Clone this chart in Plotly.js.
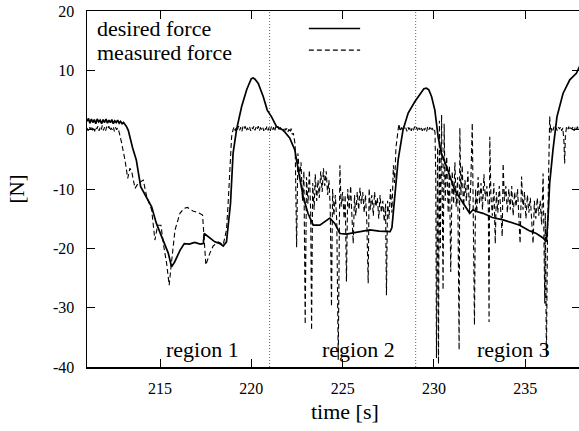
<!DOCTYPE html>
<html>
<head>
<meta charset="utf-8">
<script src="https://cdn.plot.ly/plotly-3.0.1.min.js"></script>
<style>
html, body { margin: 0; padding: 0; overflow: hidden; background: #fff; }
#chart { width: 600px; height: 431px; }
</style>
</head>
<body>
<div id="chart"></div>
<script>
// ---- data ----
const seriesNames = ["desired force", "measured force"];

const desiredT = [
  211.00, 211.08, 211.16, 211.24, 211.32, 211.40, 211.48, 211.56, 211.64, 211.72,
  211.80, 211.88, 211.96, 212.04, 212.12, 212.20, 212.28, 212.36, 212.44, 212.52,
  212.60, 212.68, 212.76, 212.84, 212.92, 213.00, 213.15, 213.26, 213.50, 213.70,
  213.94, 214.27, 214.54, 214.80, 215.18, 215.45, 215.63, 215.80, 216.10, 216.33,
  216.60, 216.90, 217.20, 217.37, 217.42, 217.73, 218.00, 218.28, 218.46, 218.64,
  218.73, 218.86, 219.00, 219.19, 219.47, 219.74, 219.90, 220.00, 220.10, 220.20,
  220.38, 220.65, 220.87, 221.10, 221.38, 221.75, 222.10, 222.38, 222.57, 222.84,
  223.10, 223.39, 223.75, 224.00, 224.30, 224.57, 224.85, 225.20, 225.58, 226.00,
  226.50, 227.00, 227.60, 227.70, 227.86, 228.04, 228.31, 228.59, 228.95, 229.32,
  229.45, 229.59, 229.72, 229.87, 230.05, 230.23, 230.41, 230.69, 230.96, 231.14,
  231.50, 231.96, 232.14, 232.33, 232.69, 233.20, 233.79, 234.20, 234.70, 235.20,
  235.61, 236.00, 236.16, 236.25, 236.34, 236.52, 236.74, 237.07, 237.44, 237.80,
  238.00
];
const desiredF = [
  1.4, 1.9, 1.1, 1.8, 1.2, 1.7, 1.0, 1.8, 1.3, 1.6,
  1.0, 1.7, 1.2, 1.8, 1.1, 1.6, 1.2, 1.7, 1.0, 1.5,
  1.2, 1.6, 1.1, 1.4, 1.0, 1.2, 0.6, -0.1, -3.1, -5.1,
  -9.6, -11.6, -13.0, -15.8, -18.6, -20.8, -23.1, -22.3, -20.3, -19.2,
  -19.3, -19.0, -19.3, -19.2, -17.5, -18.3, -18.9, -19.2, -19.6, -18.9,
  -16.4, -12.4, -4.0, 0.0, 3.9, 6.7, 7.9, 8.6, 8.7, 8.5,
  7.8, 5.6, 3.3, 2.2, 0.5, -0.1, -1.4, -3.4, -6.8, -11.3,
  -14.1, -16.1, -16.1, -15.5, -14.9, -15.8, -17.5, -17.6, -17.4, -17.2,
  -16.9, -17.1, -17.2, -16.5, -10.7, -5.1, 0.0, 2.8, 4.7, 6.4,
  6.9, 7.0, 6.7, 5.6, 3.3, -1.2, -4.0, -6.2, -8.5, -10.2,
  -11.9, -14.1, -13.5, -13.8, -14.1, -14.8, -15.2, -15.6, -16.1, -17.0,
  -17.5, -18.3, -18.9, -14.7, -9.0, -3.4, 2.2, 6.1, 8.4, 9.5,
  10.8
];

const measuredT = [
  211.00, 211.06, 211.12, 211.18, 211.24, 211.30, 211.36, 211.42, 211.48, 211.54,
  211.60, 211.66, 211.72, 211.78, 211.84, 211.90, 211.96, 212.02, 212.08, 212.14,
  212.20, 212.26, 212.32, 212.38, 212.44, 212.50, 212.56, 212.62, 212.68, 212.76,
  212.90, 213.08, 213.23, 213.35, 213.45, 213.63, 213.81, 214.08, 214.27, 214.54,
  214.72, 214.87, 215.05, 215.18, 215.36, 215.50, 215.64, 215.82, 216.09, 216.30,
  216.50, 216.80, 217.10, 217.33, 217.51, 217.73, 217.91, 218.19, 218.46, 218.64,
  218.73, 218.83, 218.92, 219.00,
  219.06, 219.12, 219.18, 219.24, 219.30, 219.36, 219.42, 219.48, 219.54, 219.60,
  219.66, 219.72, 219.78, 219.84, 219.90, 219.96, 220.02, 220.08, 220.14, 220.20,
  220.26, 220.32, 220.38, 220.44, 220.50, 220.56, 220.62, 220.68, 220.74, 220.80,
  220.86, 220.92, 220.98, 221.04, 221.10, 221.16, 221.22, 221.28, 221.34, 221.40,
  221.46, 221.52, 221.58, 221.64, 221.70, 221.76, 221.82, 221.88, 221.94, 222.00,
  222.06, 222.12, 222.18, 222.24, 222.30,
  222.40, 222.48, 222.55, 222.65, 222.72, 222.80, 222.88, 222.95, 223.02, 223.10,
  223.18, 223.25, 223.30, 223.36, 223.44, 223.50, 223.58, 223.65, 223.72, 223.80,
  223.88, 223.95, 224.02, 224.10, 224.18, 224.25, 224.32, 224.39, 224.45, 224.52,
  224.60, 224.68, 224.76, 224.82, 224.85, 224.92, 225.00, 225.08, 225.14, 225.21,
  225.28, 225.36, 225.44, 225.50, 225.58, 225.65, 225.72, 225.80, 225.88, 225.95,
  226.02, 226.10, 226.18, 226.25, 226.32, 226.40, 226.45, 226.52, 226.60, 226.68,
  226.75, 226.82, 226.90, 226.98, 227.05, 227.12, 227.20, 227.28, 227.35, 227.40,
  227.46, 227.54, 227.62, 227.70, 227.78, 227.85, 227.92, 228.00, 228.08, 228.15,
  228.22, 228.28, 228.34, 228.40, 228.46, 228.52, 228.58, 228.64, 228.70, 228.76,
  228.82, 228.88, 228.94, 229.00, 229.06, 229.12, 229.18, 229.24, 229.30, 229.36,
  229.42, 229.48, 229.54, 229.60, 229.66, 229.72, 229.78, 229.84, 229.90, 229.96,
  230.02, 230.06,
  230.10, 230.14, 230.20, 230.25, 230.30, 230.35, 230.42, 230.50, 230.56, 230.62,
  230.70, 230.78, 230.85, 230.92, 231.00, 231.08, 231.15, 231.22, 231.30, 231.38,
  231.42, 231.48, 231.55, 231.62, 231.70, 231.78, 231.86, 231.95, 232.02, 232.10,
  232.15, 232.22, 232.28, 232.35, 232.42, 232.50, 232.58, 232.66, 232.74, 232.82,
  232.90, 232.98, 233.02, 233.06, 233.12, 233.20, 233.28, 233.36, 233.42, 233.50,
  233.58, 233.66, 233.74, 233.79, 233.86, 233.94, 234.02, 234.10, 234.18, 234.26,
  234.34, 234.42, 234.50, 234.58, 234.66, 234.72, 234.80, 234.88, 234.96, 235.04,
  235.12, 235.20, 235.28, 235.36, 235.43, 235.50, 235.58, 235.66, 235.74, 235.82,
  235.90, 235.98, 236.04, 236.07, 236.10, 236.16, 236.22, 236.28, 236.34, 236.40,
  236.46, 236.52, 236.58, 236.64, 236.70, 236.76, 236.82, 236.88, 236.94, 237.00,
  237.06, 237.12, 237.16, 237.20, 237.26, 237.32, 237.38, 237.44, 237.50, 237.56,
  237.62, 237.68, 237.74, 237.80, 237.86, 237.92, 238.00
];
const measuredF = [
  0.3, -0.2, 0.5, 0.0, 0.6, -0.1, 0.4, -0.3, 0.5, 0.1,
  0.6, -0.2, 0.4, 0.0, 0.7, -0.1, 0.4, -0.2, 0.5, 0.1,
  0.6, -0.2, 0.3, 0.0, 0.5, -0.3, 0.4, 0.0, 0.3, -0.4,
  -2.3, -5.1, -8.2, -6.5, -7.1, -9.9, -9.0, -8.5, -11.3, -13.5,
  -18.6, -16.1, -16.1, -19.2, -22.5, -26.2, -22.0, -16.9, -14.1, -13.3,
  -13.1, -13.7, -14.0, -14.4, -22.8, -20.8, -19.6, -18.9, -19.4, -16.9,
  -12.4, -6.8, -1.2, 0.0,
  0.5, -0.2, 0.4, 0.0, 0.6, -0.1, 0.4, -0.3, 0.5, 0.1,
  0.6, -0.2, 0.3, 0.0, 0.5, -0.2, 0.4, 0.1, 0.6, -0.1,
  0.4, 0.0, 0.6, -0.2, 0.3, 0.1, 0.5, -0.2, 0.4, 0.0,
  0.6, -0.1, 0.4, -0.2, 0.5, 0.0, 0.4, -0.3, 0.5, 0.1,
  0.6, -0.2, 0.4, 0.0, 0.3, -0.3, 0.4, -0.1, 0.2, -0.4,
  0.1, -0.5, 0.2, -0.8, -0.6,
  -2.5, -19.8, -4.0, -8.0, -5.5, -12.0, -7.0, -32.8, -8.0, -12.5,
  -6.8, -14.0, -33.8, -9.0, -13.5, -7.5, -12.0, -8.5, -11.5, -7.0,
  -10.5, -6.5, -9.5, -7.0, -11.0, -8.5, -13.0, -29.8, -10.0, -14.5,
  -11.0, -15.5, -38.8, -9.0, -6.0, -13.0, -10.5, -15.0, -11.0, -25.6,
  -10.0, -13.5, -9.5, -14.0, -19.2, -11.0, -14.5, -10.5, -13.5, -9.8,
  -12.5, -10.5, -14.0, -11.0, -15.0, -25.9, -9.9, -13.5, -11.0, -14.5,
  -10.5, -13.0, -11.5, -15.0, -11.0, -14.0, -12.0, -15.5, -12.5, -27.9,
  -12.0, -15.0, -10.0, -14.0, -6.0, -9.0, -3.0, -1.0, 1.0, -0.3,
  0.4, -0.2, 0.5, 0.0, 0.3, -0.3, 0.4, 0.0, 0.5, -0.2,
  0.3, -0.1, 0.5, 0.0, 0.4, -0.3, 0.3, 0.0, 0.5, -0.2,
  0.4, -0.1, 0.3, -0.3, 0.5, 0.0, 0.4, -0.2, 0.3, -0.1,
  0.2, -0.5,
  -8.0, -38.5, -3.0, -39.5, 1.5, -20.0, 2.5, -27.0, 1.0, -12.0,
  -4.5, -14.0, -6.0, -24.0, -7.0, -12.5, -5.5, -13.0, -8.0, -37.1,
  0.3, -11.0, -6.0, -13.5, -8.5, -12.0, -7.0, -14.0, -9.0, 1.1,
  -12.0, -32.9, -10.0, -14.0, -8.0, -12.5, -9.0, -13.5, -7.5, -12.0,
  -9.5, -13.0, -32.4, -1.2, -11.0, -14.5, -9.0, -19.2, -10.5, -14.0,
  -9.5, -13.0, -18.0, -5.7, -12.0, -9.5, -14.0, -10.0, -13.5, -9.5,
  -14.5, -10.5, -13.0, -10.0, -15.0, -19.2, -7.9, -13.5, -10.5, -15.0,
  -11.0, -14.0, -11.5, -15.5, -19.2, -12.0, -15.0, -11.5, -14.5, -12.0,
  -16.0, -7.4, -20.0, -29.3, -14.0, -38.3, -18.0, -8.0, 2.2, -0.5,
  0.4, -0.1, 0.5, 0.0, 0.3, -0.2, 0.4, 0.1, 0.5, -0.2,
  0.3, -2.0, -5.7, -1.0, 0.4, 0.0, 0.5, -0.1, 0.3, 0.1,
  0.5, -0.2, 0.4, 0.0, 0.5, -0.1, 0.3
];

const xTicks = [215, 220, 225, 230, 235];
const yTicks = [-40, -30, -20, -10, 0, 10, 20];
const regionBounds = [221, 229];
const regionLabels = ["region 1", "region 2", "region 3"];
const regionLabelX = [217.32, 225.85, 234.36];
const regionLabelY = -37;
const xTitle = "time [s]";
const yTitle = "[N]";

// ---- chart ----
const serif = "Liberation Serif, serif";
const traces = [
  { type: "scatter", mode: "lines", name: seriesNames[0], x: desiredT, y: desiredF,
    line: { color: "#000", width: 1.7 }, showlegend: false },
  { type: "scatter", mode: "lines", name: seriesNames[1], x: measuredT, y: measuredF,
    line: { color: "#000", width: 1.1, dash: "5px,3px" }, showlegend: false }
];

const shapes = regionBounds.map(b => ({
  type: "line", xref: "x", yref: "paper", x0: b, x1: b, y0: 0, y1: 1,
  line: { color: "#666", width: 1, dash: "1px,2px" }, layer: "below"
}));
// legend line samples
shapes.push({ type: "line", xref: "paper", yref: "paper", x0: 0.450, x1: 0.554, y0: 0.951, y1: 0.951,
  line: { color: "#000", width: 1.4 } });
shapes.push({ type: "line", xref: "paper", yref: "paper", x0: 0.450, x1: 0.554, y0: 0.890, y1: 0.890,
  line: { color: "#000", width: 1.1, dash: "5px,3px" } });

const annotations = regionLabels.map((t, i) => ({
  text: t, x: regionLabelX[i], y: regionLabelY, xref: "x", yref: "y",
  showarrow: false, xanchor: "center", yanchor: "middle",
  font: { family: serif, size: 22, color: "#000" }
}));
annotations.push({ text: seriesNames[0], xref: "paper", yref: "paper", x: 0.0162, y: 0.950,
  xanchor: "left", yanchor: "middle", showarrow: false, font: { family: serif, size: 22, color: "#000" } });
annotations.push({ text: seriesNames[1], xref: "paper", yref: "paper", x: 0.0162, y: 0.884,
  xanchor: "left", yanchor: "middle", showarrow: false, font: { family: serif, size: 22, color: "#000" } });
annotations.push({ text: xTitle, xref: "paper", yref: "paper", x: 0.5233, y: -0.1264,
  xanchor: "center", yanchor: "middle", showarrow: false, font: { family: serif, size: 22, color: "#000" } });

const layout = {
  width: 600, height: 431,
  margin: { l: 87, r: 20, t: 11, b: 64 },
  paper_bgcolor: "#fff", plot_bgcolor: "#fff",
  font: { family: serif, color: "#000" },
  showlegend: false,
  xaxis: {
    range: [211, 238], tickmode: "array", tickvals: xTicks, ticktext: xTicks.map(String),
    ticks: "inside", ticklen: 8, tickwidth: 1, tickcolor: "#000",
    showline: true, linecolor: "#000", linewidth: 1.5, mirror: "ticks",
    showgrid: false, zeroline: false,
    tickfont: { family: serif, size: 16, color: "#000" }, ticklabelstandoff: 6
  },
  yaxis: {
    range: [-40, 20], tickmode: "array", tickvals: yTicks, ticktext: yTicks.map(String),
    ticks: "inside", ticklen: 8, tickwidth: 1, tickcolor: "#000",
    showline: true, linecolor: "#000", linewidth: 1.5, mirror: "ticks",
    showgrid: false, zeroline: false,
    tickfont: { family: serif, size: 16, color: "#000" }, ticklabelstandoff: 8,
    title: { text: yTitle, font: { family: serif, size: 21, color: "#000" }, standoff: 22 }
  },
  shapes: shapes,
  annotations: annotations
};

Plotly.newPlot("chart", traces, layout, { staticPlot: true, displayModeBar: false });
</script>
</body>
</html>
